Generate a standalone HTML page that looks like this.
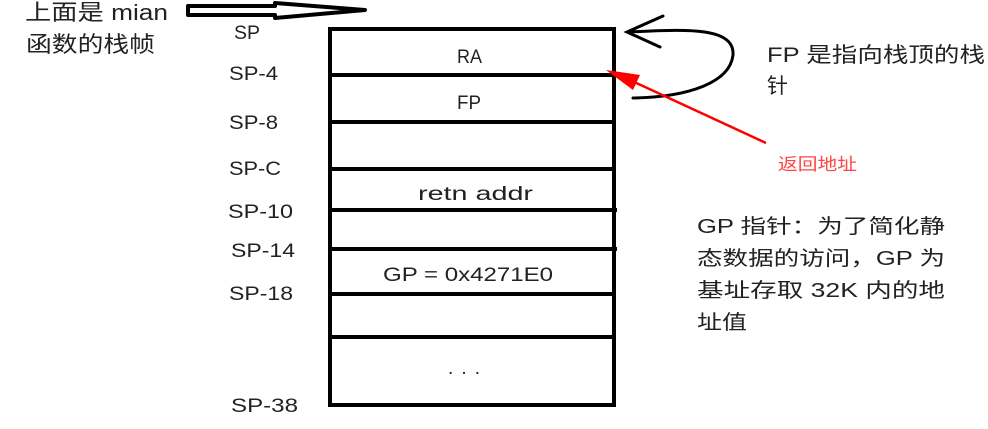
<!DOCTYPE html>
<html><head><meta charset="utf-8"><style>
body{margin:0;background:#fff;width:988px;height:424px;overflow:hidden}
svg text{font-family:"WenQuanYi Zen Hei","Liberation Sans","Noto Sans CJK SC",sans-serif;fill:#222}
</style></head><body>
<svg width="988" height="424" viewBox="0 0 988 424" xmlns="http://www.w3.org/2000/svg">
<g font-size="22">
<text x="25" y="20" textLength="143" lengthAdjust="spacingAndGlyphs">上面是 mian</text>
<text x="26" y="52" textLength="129" lengthAdjust="spacingAndGlyphs">函数的栈帧</text>
</g>
<path d="M188,6 L275,6 L275,3 L365,10 L275,18 L275,15 L188,15 Z" fill="#fff" stroke="#000" stroke-width="4" stroke-linejoin="round"/>
<g font-size="19">
<text x="234" y="39" textLength="26" lengthAdjust="spacingAndGlyphs">SP</text>
<text x="229" y="80" textLength="49" lengthAdjust="spacingAndGlyphs">SP-4</text>
<text x="229" y="129" textLength="49" lengthAdjust="spacingAndGlyphs">SP-8</text>
<text x="229" y="175" textLength="52" lengthAdjust="spacingAndGlyphs">SP-C</text>
<text x="228" y="218" textLength="65" lengthAdjust="spacingAndGlyphs">SP-10</text>
<text x="231" y="257" textLength="64" lengthAdjust="spacingAndGlyphs">SP-14</text>
<text x="229" y="300" textLength="64" lengthAdjust="spacingAndGlyphs">SP-18</text>
<text x="231" y="412" textLength="67" lengthAdjust="spacingAndGlyphs">SP-38</text>
</g>
<rect x="330" y="29" width="284" height="376" fill="none" stroke="#000" stroke-width="4"/>
<g stroke="#000" stroke-width="4">
<line x1="330" y1="75" x2="614" y2="75"/>
<line x1="330" y1="122" x2="614" y2="122"/>
<line x1="330" y1="169" x2="614" y2="169"/>
<line x1="330" y1="210" x2="617" y2="210"/>
<line x1="330" y1="249" x2="617" y2="249"/>
<line x1="330" y1="294" x2="614" y2="294"/>
<line x1="330" y1="337" x2="614" y2="337"/>
</g>
<g font-size="19">
<text x="457" y="63" textLength="25" lengthAdjust="spacingAndGlyphs">RA</text>
<text x="457" y="109" textLength="24" lengthAdjust="spacingAndGlyphs">FP</text>
<text x="418" y="200" textLength="115" lengthAdjust="spacingAndGlyphs">retn addr</text>
<text x="383" y="281" textLength="170" lengthAdjust="spacingAndGlyphs">GP = 0x4271E0</text>
<text x="448" y="374" textLength="32" lengthAdjust="spacing">...</text>
</g>
<path d="M663,16 L627,32 L660,47 M627,32 C680,30 735,25 733,55 C730,82 690,97 633,98" fill="none" stroke="#000" stroke-width="3" stroke-linecap="round"/>
<line x1="766" y1="143" x2="630" y2="80" stroke="#f00" stroke-width="2.5"/>
<polygon points="606,70 640,75 633,90" fill="#f00"/>
<text x="778" y="170" font-size="17" style="fill:#f44" textLength="79" lengthAdjust="spacingAndGlyphs">返回地址</text>
<g font-size="21">
<text x="767" y="62" textLength="218" lengthAdjust="spacingAndGlyphs">FP 是指向栈顶的栈</text>
<text x="767" y="93">针</text>
</g>
<g font-size="20">
<text x="697" y="233" textLength="248" lengthAdjust="spacingAndGlyphs">GP 指针：为了简化静</text>
<text x="697" y="265" textLength="248" lengthAdjust="spacingAndGlyphs">态数据的访问，GP 为</text>
<text x="697" y="297" textLength="248" lengthAdjust="spacingAndGlyphs">基址存取 32K 内的地</text>
<text x="697" y="329" textLength="50" lengthAdjust="spacingAndGlyphs">址值</text>
</g>
</svg>
</body></html>
